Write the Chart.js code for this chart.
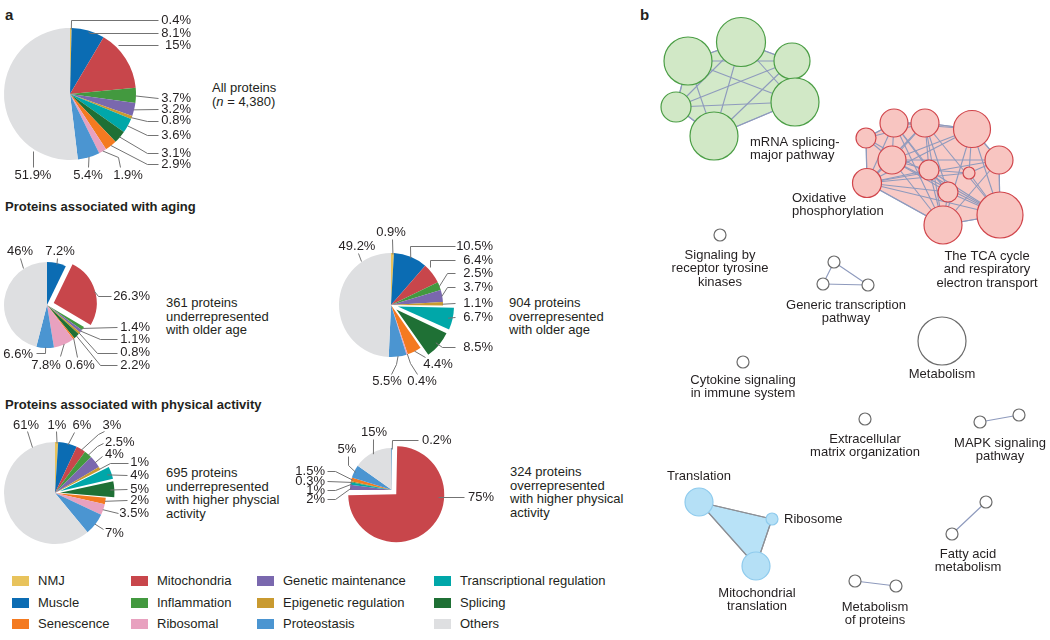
<!DOCTYPE html>
<html lang="en">
<head>
    <meta charset="UTF-8">
    <title>Protein categories and pathway network</title>
    <script src="https://cdn.jsdelivr.net/npm/chart.js@4.4.1/dist/chart.umd.min.js"></script>
    <style>
        body { margin: 0; background: #fff; }
        #page { position: relative; width: 1050px; height: 640px; overflow: hidden;
                font-family: "Liberation Sans", Arial, sans-serif; font-size: 13px; color: #231f20; }
        .txt { position: absolute; line-height: 13.5px; white-space: nowrap; }
        .head { position: absolute; font-weight: bold; line-height: 14px; white-space: nowrap; }
        .panel { position: absolute; font-weight: bold; font-size: 15px; line-height: 16px; }
        canvas.layer { position: absolute; left: 0; top: 0; }
        #net { position: absolute; left: 640px; top: 0; }
        .sw { position: absolute; width: 17px; height: 10px; }
    </style>
</head>
<body>
<div id="page">
    <div class="panel" style="left:5px; top:7px;">a</div>
    <div class="panel" style="left:640px; top:7px;">b</div>

    <div class="txt" style="left:212px; top:81px; line-height:14px;">All proteins<br>(<i>n</i> = 4,380)</div>

    <div class="head" style="left:5px; top:200px;">Proteins associated with aging</div>
    <div class="txt" style="left:166px; top:296px;">361 proteins<br>underrepresented<br>with older age</div>
    <div class="txt" style="left:509px; top:296px;">904 proteins<br>overrepresented<br>with older age</div>

    <div class="head" style="left:5px; top:398px;">Proteins associated with physical activity</div>
    <div class="txt" style="left:166px; top:466px;">695 proteins<br>underrepresented<br>with higher physcial<br>activity</div>
    <div class="txt" style="left:510px; top:465px;">324 proteins<br>overrepresented<br>with higher physical<br>activity</div>

    <div id="legend"></div>

    <canvas class="layer" id="pieAll" width="1050" height="640"></canvas>
    <canvas class="layer" id="pieAgingDown" width="1050" height="640"></canvas>
    <canvas class="layer" id="pieAgingUp" width="1050" height="640"></canvas>
    <canvas class="layer" id="pieActivityDown" width="1050" height="640"></canvas>
    <canvas class="layer" id="pieActivityUp" width="1050" height="640"></canvas>
    <canvas id="net" width="410" height="640"></canvas>
</div>

<script>
    // ---- panel a data ----
    var categories = ['NMJ', 'Muscle', 'Senescence', 'Mitochondria', 'Inflammation', 'Ribosomal',
        'Genetic maintenance', 'Epigenetic regulation', 'Proteostasis',
        'Transcriptional regulation', 'Splicing', 'Others'];
    var categoryColors = ['#e8c35c', '#0b6cb3', '#f47a20', '#c8464b', '#43993f', '#e8a1bf',
        '#7a68ae', '#c99a30', '#4b95d1', '#00a7a9', '#1f7035', '#dedfe1'];

    var allCats = ['NMJ', 'Muscle', 'Mitochondria', 'Inflammation', 'Genetic maintenance',
        'Epigenetic regulation', 'Transcriptional regulation', 'Splicing', 'Senescence',
        'Ribosomal', 'Proteostasis', 'Others'];
    var allValues = [0.4, 8.1, 15, 3.7, 3.2, 0.8, 3.6, 3.1, 2.9, 1.9, 5.4, 51.9];

    var agingDownCats = ['Muscle', 'Mitochondria', 'Inflammation', 'Genetic maintenance',
        'Epigenetic regulation', 'Splicing', 'Senescence', 'Ribosomal', 'Proteostasis', 'Others'];
    var agingDownValues = [7.2, 26.3, 1.4, 1.1, 0.8, 2.2, 0.6, 7.8, 6.6, 46];

    var agingUpCats = allCats;
    var agingUpValues = [0.9, 10.5, 6.4, 2.5, 3.7, 1.1, 6.7, 8.5, 4.4, 0.4, 5.5, 49.2];

    var activityDownCats = allCats;
    var activityDownValues = [1, 6, 3, 2.5, 4, 1, 4, 5, 2, 3.5, 7, 61];

    var activityUpCats = ['Mitochondria', 'Genetic maintenance', 'Transcriptional regulation',
        'Inflammation', 'Senescence', 'Proteostasis', 'Others', 'Muscle'];
    var activityUpValues = [75, 2, 1, 0.3, 1.5, 5, 15, 0.2];

    // ---- panel b data (layout units = px inside panel b) ----
    var nodeNames = ['g1', 'g2', 'g3', 'g4', 'g5', 'g6',
        'r1', 'r2', 'r3', 'r4', 'r5', 'r6', 'r7', 'r8', 'r9', 'r10', 'r11', 'r12',
        'sig', 'gt1', 'gt2', 'gt3', 'met', 'cyto', 'ecm', 'mapk1', 'mapk2', 'fa1', 'fa2', 'mp1', 'mp2',
        'tr', 'ribo', 'mtr'];
    var nodeX = [48, 101, 152, 155, 36, 74,
        226, 254, 285, 332, 252, 289, 329, 359, 227, 308, 303, 360,
        80, 194, 183, 228, 302, 103, 225, 340, 379, 346, 312, 215, 256,
        59, 132, 116];
    var nodeY = [61, 42, 61, 102, 107, 136,
        138, 123, 123, 129, 160, 170, 173, 160, 183, 192, 225, 215,
        235, 262, 284, 285, 341, 362, 419, 422, 415, 502, 534, 581, 586,
        502, 519, 566];
    var nodeSize = [24, 24.5, 18, 24, 15, 24,
        10, 14, 14, 18.5, 14, 10, 6, 14, 14.5, 10, 19, 23,
        6, 6, 6, 6, 24, 6, 6, 6, 6, 6, 6, 6, 6,
        14, 6, 14];
    var nodeGroup = ['green', 'green', 'green', 'green', 'green', 'green',
        'red', 'red', 'red', 'red', 'red', 'red', 'red', 'red', 'red', 'red', 'red', 'red',
        'grey', 'grey', 'grey', 'grey', 'grey', 'grey', 'grey', 'grey', 'grey', 'grey', 'grey', 'grey', 'grey',
        'blue', 'blue', 'blue'];
    var edges = [
        ['g1', 'g2'], ['g1', 'g3'], ['g2', 'g3'], ['g1', 'g5'], ['g1', 'g6'], ['g1', 'g4'], ['g2', 'g5'],
        ['g2', 'g6'], ['g2', 'g4'], ['g3', 'g4'], ['g3', 'g6'], ['g5', 'g4'], ['g5', 'g6'], ['g6', 'g4'], ['g3', 'g5'],
        ['r1', 'r2'], ['r1', 'r5'], ['r1', 'r9'], ['r1', 'r3'], ['r1', 'r12'], ['r2', 'r3'], ['r2', 'r5'],
        ['r2', 'r6'], ['r2', 'r9'], ['r2', 'r10'], ['r2', 'r4'], ['r2', 'r11'], ['r3', 'r4'], ['r3', 'r6'],
        ['r3', 'r5'], ['r3', 'r10'], ['r3', 'r11'], ['r3', 'r12'], ['r3', 'r9'], ['r4', 'r8'], ['r4', 'r5'],
        ['r4', 'r7'], ['r4', 'r11'], ['r4', 'r12'], ['r4', 'r9'], ['r5', 'r6'], ['r5', 'r9'], ['r5', 'r10'],
        ['r5', 'r11'], ['r5', 'r12'], ['r6', 'r9'], ['r6', 'r10'], ['r6', 'r11'], ['r6', 'r7'], ['r7', 'r8'],
        ['r7', 'r12'], ['r7', 'r9'], ['r8', 'r12'], ['r8', 'r9'], ['r8', 'r11'], ['r9', 'r10'], ['r9', 'r11'],
        ['r9', 'r12'], ['r10', 'r11'], ['r10', 'r12'], ['r11', 'r12'], ['r6', 'r12'], ['r8', 'r5'],
        ['gt1', 'gt2'], ['gt1', 'gt3'], ['gt2', 'gt3'], ['mapk1', 'mapk2'], ['fa1', 'fa2'], ['mp1', 'mp2'],
        ['tr', 'ribo'], ['tr', 'mtr'], ['ribo', 'mtr']
    ];
    var hullGreen = ['g5', 'g1', 'g2', 'g3', 'g4', 'g6'];
    var hullRed = ['r1', 'r2', 'r3', 'r4', 'r8', 'r12', 'r11', 'r9'];
    var hullBlue = ['tr', 'ribo', 'mtr'];

    var netLabels = ['mRNA splicing-\nmajor pathway', 'Oxidative\nphosphorylation',
        'The TCA cycle\nand respiratory\nelectron transport', 'Signaling by\nreceptor tyrosine\nkinases',
        'Generic transcription\npathway', 'Metabolism', 'Cytokine signaling\nin immune system',
        'Extracellular\nmatrix organization', 'MAPK signaling\npathway', 'Translation', 'Ribosome',
        'Mitochondrial\ntranslation', 'Fatty acid\nmetabolism', 'Metabolism\nof proteins'];
    var netLabelX = [110, 152, 347, 80, 206, 302, 103, 225, 360, 59, 144, 117, 328, 235];
    var netLabelY = [142, 198, 256, 255, 305, 374, 380, 439, 443, 476, 519, 593, 554, 607];
    var netLabelAlign = ['left', 'left', 'center', 'center', 'center', 'center', 'center',
        'center', 'center', 'center', 'left', 'center', 'center', 'center'];

    var W = 1050, H = 640;
    var FONT = '13px "Liberation Sans", Arial, sans-serif';

    // legend (4 columns, filled top to bottom)
    var legend = document.getElementById('legend');
    var legendColX = [12, 131, 257, 434];
    var legendRowY = [581, 603, 624];
    categories.forEach(function (c, i) {
        var col = Math.floor(i / 3), row = i % 3;
        var sw = document.createElement('div');
        sw.className = 'sw';
        sw.style.left = legendColX[col] + 'px';
        sw.style.top = (legendRowY[row] - 5) + 'px';
        sw.style.background = categoryColors[i];
        legend.appendChild(sw);
        var t = document.createElement('div');
        t.className = 'txt';
        t.style.left = (legendColX[col] + 26) + 'px';
        t.style.top = (legendRowY[row] - 7) + 'px';
        t.style.lineHeight = '14px';
        t.textContent = c;
        legend.appendChild(t);
    });

    // leader lines + percent labels for a pie
    function leaderPlugin(labels) {
        return {
            id: 'leaders',
            afterDatasetsDraw: function (chart) {
                var ctx = chart.ctx;
                var meta = chart.getDatasetMeta(0);
                var values = chart.data.datasets[0].data;
                ctx.save();
                ctx.strokeStyle = '#737373';
                ctx.lineWidth = 1;
                ctx.font = FONT;
                ctx.fillStyle = '#231f20';
                ctx.textBaseline = 'middle';
                labels.forEach(function (lab, i) {
                    var arc = meta.data[i];
                    var start = lab.s;
                    if (!start) {
                        var mid = (arc.startAngle + arc.endAngle) / 2;
                        var rr = arc.outerRadius + (arc.options.offset || 0) / 4 - 1;
                        start = [arc.x + Math.cos(mid) * rr, arc.y + Math.sin(mid) * rr];
                    }
                    ctx.beginPath();
                    ctx.moveTo(start[0] + 0.5, start[1] + 0.5);
                    lab.p.forEach(function (q) { ctx.lineTo(q[0] + 0.5, q[1] + 0.5); });
                    ctx.stroke();
                    ctx.textAlign = lab.t[2];
                    ctx.fillText(values[i] + '%', lab.t[0], lab.t[1]);
                });
                ctx.restore();
            }
        };
    }

    function makePie(id, cats, values, cfg) {
        var colors = cats.map(function (c) { return categoryColors[categories.indexOf(c)]; });
        var offsets = cats.map(function (c) { return cfg.pull.indexOf(c) >= 0 ? cfg.pullPx * 4 : 0; });
        new Chart(document.getElementById(id), {
            type: 'pie',
            data: {
                labels: cats,
                datasets: [{ data: values, backgroundColor: colors, borderWidth: 0, offset: offsets, radius: cfg.r }]
            },
            options: {
                responsive: false,
                animation: false,
                events: [],
                layout: { padding: { left: cfg.cx - cfg.r, top: cfg.cy - cfg.r, right: W - cfg.cx - cfg.r, bottom: H - cfg.cy - cfg.r } },
                plugins: { legend: { display: false }, tooltip: { enabled: false } }
            },
            plugins: [leaderPlugin(cfg.labels)]
        });
    }

    makePie('pieAll', allCats, allValues, {
        cx: 70, cy: 94, r: 66, pull: [], pullPx: 0,
        labels: [
            { t: [191, 20, 'right'], p: [[71, 20], [158, 20]] },
            { t: [191, 33, 'right'], p: [[90, 33], [158, 33]] },
            { t: [191, 45, 'right'], s: [118, 45], p: [[158, 45]] },
            { t: [191, 98, 'right'], p: [[158, 98]] },
            { t: [191, 109, 'right'], p: [[158, 109]] },
            { t: [191, 120, 'right'], p: [[147, 121], [158, 121]] },
            { t: [191, 135, 'right'], p: [[147, 135], [158, 135]] },
            { t: [191, 153, 'right'], p: [[147, 153], [158, 153]] },
            { t: [191, 164, 'right'], p: [[147, 164], [158, 164]] },
            { t: [128, 175, 'center'], p: [[118, 157], [120, 167]] },
            { t: [88, 175, 'center'], p: [[88, 167]] },
            { t: [33, 175, 'center'], s: [33, 151], p: [[33, 167]] }
        ]
    });

    makePie('pieAgingDown', agingDownCats, agingDownValues, {
        cx: 47, cy: 305, r: 43, pull: ['Mitochondria'], pullPx: 7,
        labels: [
            { t: [60, 251, 'center'], p: [[57, 258]] },
            { t: [150, 296, 'right'], p: [[98, 296], [111, 296]] },
            { t: [150, 327, 'right'], p: [[117, 327]] },
            { t: [150, 339, 'right'], p: [[100, 339], [117, 339]] },
            { t: [150, 352, 'right'], p: [[97, 353], [117, 353]] },
            { t: [150, 365, 'right'], p: [[100, 365], [117, 365]] },
            { t: [80, 365, 'center'], p: [[77, 357]] },
            { t: [46, 365, 'center'], p: [[60, 356]] },
            { t: [33, 354, 'right'], p: [[45, 353], [36, 353]] },
            { t: [20, 251, 'center'], s: [23, 268], p: [[20, 258]] }
        ]
    });

    makePie('pieAgingUp', agingUpCats, agingUpValues, {
        cx: 391, cy: 305, r: 52, pull: ['Transcriptional regulation', 'Splicing'], pullPx: 7,
        labels: [
            { t: [391, 232, 'center'], p: [[392, 239]] },
            { t: [493, 246, 'right'], p: [[410, 246], [455, 246]] },
            { t: [493, 260, 'right'], s: [430, 267], p: [[430, 260], [455, 260]] },
            { t: [493, 273, 'right'], p: [[447, 273], [455, 273]] },
            { t: [493, 287, 'right'], p: [[447, 287], [455, 287]] },
            { t: [493, 303, 'right'], p: [[455, 303]] },
            { t: [493, 317, 'right'], p: [[455, 317]] },
            { t: [493, 347, 'right'], p: [[442, 347], [455, 347]] },
            { t: [438, 364, 'center'], p: [[425, 357]] },
            { t: [422, 381, 'center'], p: [[410, 363], [417, 374]] },
            { t: [387, 381, 'center'], p: [[396, 364], [391, 374]] },
            { t: [357, 246, 'center'], s: [361, 261], p: [[358, 253]] }
        ]
    });

    makePie('pieActivityDown', activityDownCats, activityDownValues, {
        cx: 55, cy: 493, r: 51, pull: ['Transcriptional regulation', 'Splicing'], pullPx: 5,
        labels: [
            { t: [57, 425, 'center'], p: [[56, 431]] },
            { t: [82, 425, 'center'], p: [[74, 432]] },
            { t: [112, 425, 'center'], p: [[98, 434], [104, 431]] },
            { t: [105, 442, 'left'], p: [[97, 446], [103, 443]] },
            { t: [105, 454, 'left'], p: [[102, 456]] },
            { t: [149, 462, 'right'], p: [[110, 463], [128, 463]] },
            { t: [149, 475, 'right'], p: [[127, 475]] },
            { t: [149, 489, 'right'], p: [[127, 489]] },
            { t: [149, 500, 'right'], p: [[127, 500]] },
            { t: [149, 513, 'right'], p: [[118, 513]] },
            { t: [105, 533, 'left'], p: [[103, 529]] },
            { t: [26, 425, 'center'], s: [32, 447], p: [[27, 431]] }
        ]
    });

    makePie('pieActivityUp', activityUpCats, activityUpValues, {
        cx: 392, cy: 490, r: 42, pull: ['Mitochondria'], pullPx: 6,
        labels: [
            { t: [468, 497, 'left'], s: [438, 497], p: [[464, 497]] },
            { t: [325, 499, 'right'], p: [[335, 499], [327, 499]] },
            { t: [325, 490, 'right'], p: [[335, 490], [327, 490]] },
            { t: [325, 481, 'right'], p: [[327, 481]] },
            { t: [325, 471, 'right'], p: [[335, 471], [327, 471]] },
            { t: [347, 449, 'center'], p: [[348, 465], [348, 456]] },
            { t: [374, 432, 'center'], p: [[373, 439]] },
            { t: [422, 440, 'left'], p: [[392, 440], [418, 440]] }
        ]
    });

    // ---- panel b: network ----
    var groupFill = { green: '#d1e8c6', red: '#f8c5c1', blue: '#b5e0f6', grey: '#ffffff' };
    var groupLine = { green: '#4b9e45', red: '#d1464c', blue: '#8fcbed', grey: '#6b6b6b' };
    var hullFill = { green: '#d3e9c9', red: '#f8cac6', blue: '#b8e2f7' };

    function idx(name) { return nodeNames.indexOf(name); }

    var netPlugin = {
        id: 'network',
        beforeDatasetsDraw: function (chart) {
            var ctx = chart.ctx, xs = chart.scales.x, ys = chart.scales.y;
            function px(n) { var i = idx(n); return [xs.getPixelForValue(nodeX[i]), ys.getPixelForValue(nodeY[i])]; }
            ctx.save();
            [[hullGreen, 'green'], [hullRed, 'red'], [hullBlue, 'blue']].forEach(function (h) {
                ctx.beginPath();
                h[0].forEach(function (n, k) {
                    var p = px(n);
                    if (k === 0) ctx.moveTo(p[0], p[1]); else ctx.lineTo(p[0], p[1]);
                });
                ctx.closePath();
                ctx.fillStyle = hullFill[h[1]];
                ctx.fill();
                ctx.lineJoin = 'round';
                ctx.lineWidth = 1.2;
                ctx.strokeStyle = h[1] === 'blue' ? '#8d9096' : '#97a2c0';
                ctx.stroke();
            });
            edges.forEach(function (e) {
                var a = px(e[0]), b = px(e[1]);
                ctx.beginPath();
                ctx.moveTo(a[0], a[1]);
                ctx.lineTo(b[0], b[1]);
                ctx.lineWidth = 1.1;
                ctx.strokeStyle = nodeGroup[idx(e[0])] === 'blue' ? '#8d9096' : '#8e9abd';
                ctx.stroke();
            });
            ctx.restore();
        },
        afterDatasetsDraw: function (chart) {
            var ctx = chart.ctx, xs = chart.scales.x, ys = chart.scales.y;
            ctx.save();
            ctx.font = FONT;
            ctx.fillStyle = '#231f20';
            ctx.textBaseline = 'middle';
            netLabels.forEach(function (txt, i) {
                ctx.textAlign = netLabelAlign[i];
                var x = xs.getPixelForValue(netLabelX[i]);
                txt.split('\n').forEach(function (line, k) {
                    ctx.fillText(line, x, ys.getPixelForValue(netLabelY[i] + k * 13.5));
                });
            });
            ctx.restore();
        }
    };

    new Chart(document.getElementById('net'), {
        type: 'bubble',
        data: {
            datasets: [{
                data: nodeNames.map(function (n, i) { return { x: nodeX[i], y: nodeY[i], r: nodeSize[i] }; }),
                backgroundColor: nodeGroup.map(function (g) { return groupFill[g]; }),
                borderColor: nodeGroup.map(function (g) { return groupLine[g]; }),
                borderWidth: 1.2,
                clip: false
            }]
        },
        options: {
            responsive: false,
            animation: false,
            events: [],
            layout: { padding: 0, autoPadding: false },
            scales: {
                x: { type: 'linear', min: 0, max: 410, display: false },
                y: { type: 'linear', min: 0, max: 640, reverse: true, display: false }
            },
            plugins: { legend: { display: false }, tooltip: { enabled: false } }
        },
        plugins: [netPlugin]
    });
</script>
</body>
</html>
